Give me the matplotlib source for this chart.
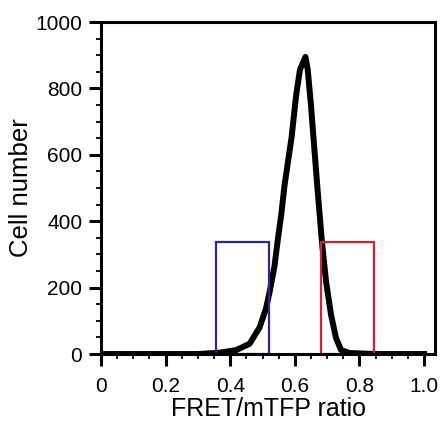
import matplotlib.pyplot as plt
from matplotlib.patches import Rectangle
from matplotlib.ticker import MultipleLocator

plt.rcParams["font.family"] = ["Liberation Sans", "DejaVu Sans"]

# Histogram of FRET/mTFP ratio
ratio = [0.0, 0.30, 0.367, 0.419, 0.460, 0.491, 0.511, 0.522, 0.537, 0.547,
         0.558, 0.568, 0.590, 0.604, 0.616, 0.633, 0.640, 0.650,
         0.660, 0.671, 0.684, 0.697, 0.712, 0.727, 0.743, 0.769, 0.85, 1.0]
cells = [0, 0, 4, 12, 31, 80, 138, 187, 264, 342,
         420, 507, 653, 779, 857, 895, 857, 750,
         624, 488, 337, 216, 119, 50, 12, 3, 0, 0]

# Gates (x start, x end, height)
gate_low = (0.355, 0.521, 338)
gate_high = (0.681, 0.845, 338)

fig = plt.figure(figsize=(4.42, 4.25), dpi=100)
ax = fig.add_axes([0.2285, 0.167, 0.7557, 0.781])

ax.plot(ratio, cells, color="black", lw=4.3, solid_joinstyle="round", zorder=3)

for (x0, x1, h), col in [(gate_low, "#2a2a8c"), (gate_high, "#d42030")]:
    ax.add_patch(Rectangle((x0, 0), x1 - x0, h, fill=False, edgecolor=col,
                           lw=1.6, zorder=4))

ax.set_xlim(0, 1.034)
ax.set_ylim(0, 1000)
ax.set_xticks([0, 0.2, 0.4, 0.6, 0.8, 1.0])
ax.set_xticklabels(["0", "0.2", "0.4", "0.6", "0.8", "1.0"])
ax.set_yticks([0, 200, 400, 600, 800, 1000])
ax.xaxis.set_minor_locator(MultipleLocator(0.05))
ax.yaxis.set_minor_locator(MultipleLocator(50))

for s in ax.spines.values():
    s.set_linewidth(2.2)
    s.set_zorder(5)

ax.tick_params(which="major", direction="out", length=8.5, width=2.2,
               labelsize=15, pad=5, color="black")
ax.tick_params(axis="x", which="major", pad=8)
ax.tick_params(which="minor", direction="out", length=3.5, width=1.3)
ax.tick_params(top=False, right=False)

ax.set_xlabel("FRET/mTFP ratio", fontsize=18, labelpad=1)
ax.set_ylabel("Cell number", fontsize=18.5, labelpad=2)

fig.savefig("out.png", dpi=100)
